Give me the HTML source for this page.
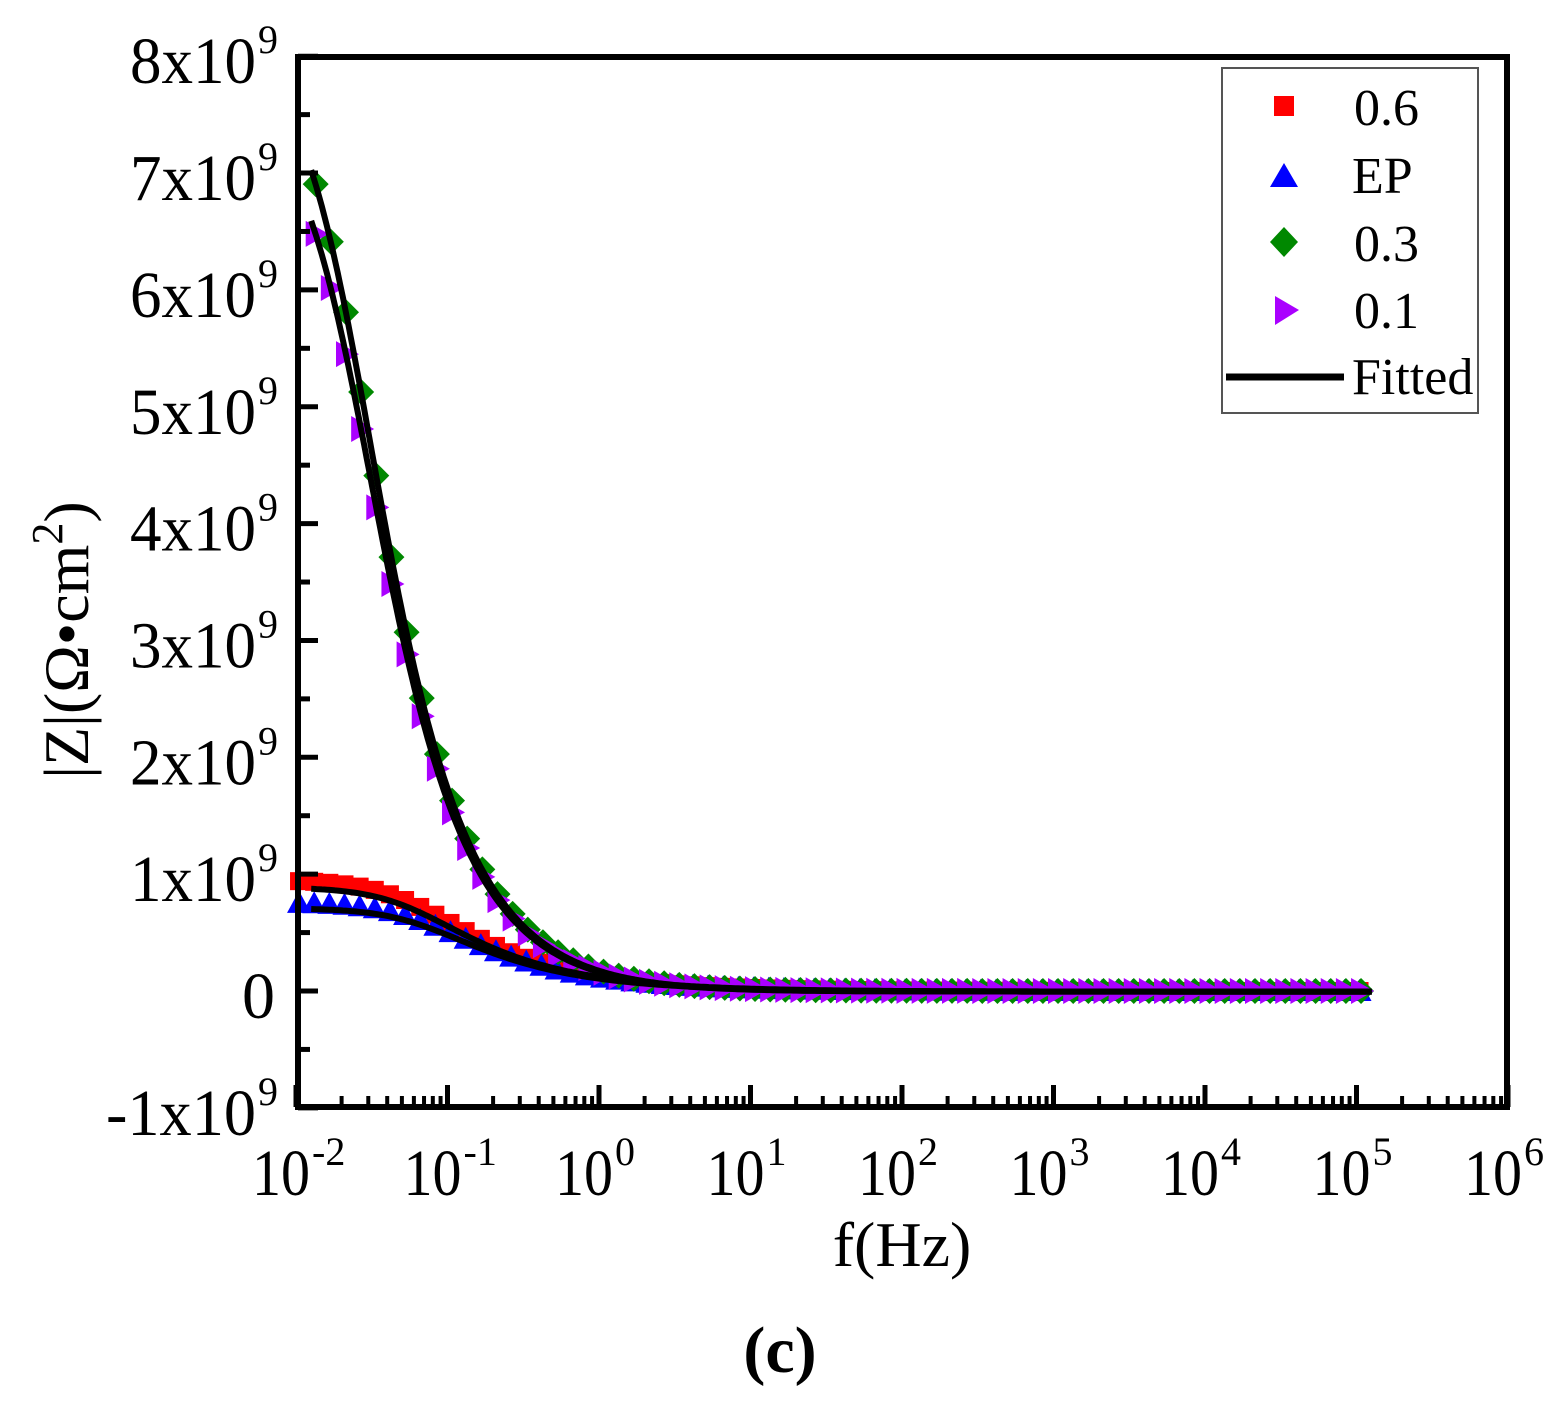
<!DOCTYPE html>
<html><head><meta charset="utf-8"><style>
html,body{margin:0;padding:0;background:#fff;}
svg{display:block;font-family:"Liberation Serif",serif;}
</style></head><body>
<svg id="s" width="1564" height="1402" viewBox="0 0 1564 1402" xmlns="http://www.w3.org/2000/svg">
<rect width="1564" height="1402" fill="#fff"/>
<g id="data"></g>
<g id="axes"></g>
<rect x="1222" y="68" width="256" height="345" fill="#fff" stroke="#555" stroke-width="2"/>
<rect x="1274" y="96" width="20" height="20" fill="#f00"/>
<polygon points="1284,163 1298,187 1270,187" fill="#00f"/>
<polygon points="1284,227 1298,242 1284,257 1270,242" fill="#080"/>
<polygon points="1275,296 1299,310 1275,325" fill="#a0f"/>
<line x1="1226" y1="377" x2="1344" y2="377" stroke="#000" stroke-width="7"/>
<g font-size="52" fill="#000">
<text x="1354" y="125">0.6</text>
<text x="1352" y="193">EP</text>
<text x="1354" y="261">0.3</text>
<text x="1354" y="328">0.1</text>
<text x="1352" y="394">Fitted</text>
</g>
<text x="902" y="1266" font-size="64" text-anchor="middle">f(Hz)</text>
<text x="780" y="1372" font-size="66" text-anchor="middle" font-weight="bold">(c)</text>
<text transform="translate(88,640) rotate(-90)" font-size="64" text-anchor="middle">|Z|(Ω•cm<tspan font-size="44" dy="-26">2</tspan><tspan dy="26">)</tspan></text>
</svg>
<script>
var NS="http://www.w3.org/2000/svg";
var X0=296,DX=151.5,Y0=991,DY=116.85;
function fx(f){return X0+(Math.log10(f)+2)*DX;}
function fy(v){return Y0-v*DY;}
function el(p,t,a,txt){var e=document.createElementNS(NS,t);for(var k in a)e.setAttribute(k,a[k]);if(txt!==undefined)e.textContent=txt;p.appendChild(e);return e;}
var ax=document.getElementById('axes'),dg=document.getElementById('data');
el(ax,'rect',{x:298,y:57,width:1209,height:1050,fill:'none',stroke:'#000','stroke-width':6});
for(var v=-1;v<=8;v+=0.5){var y=fy(v);var L=(Math.abs(v-Math.round(v))<0.01)?20:12;el(ax,'line',{x1:298,y1:y,x2:298+L,y2:y,stroke:'#000','stroke-width':5});}
for(var d=-2;d<=6;d++){var x=fx(Math.pow(10,d));el(ax,'line',{x1:x,y1:1107,x2:x,y2:1085,stroke:'#000','stroke-width':5});
 if(d<6)for(var m=2;m<=9;m++){var xm=fx(m*Math.pow(10,d));el(ax,'line',{x1:xm,y1:1107,x2:xm,y2:1096,stroke:'#000','stroke-width':4});}}
for(var v=-1;v<=8;v++){var y=fy(v)+27;
 if(v==0){el(ax,'text',{x:275,y:y,'font-size':66,'text-anchor':'end'},'0');continue;}
 el(ax,'text',{x:256,y:y,'font-size':66,'text-anchor':'end',textLength:(v==-1?150:126),lengthAdjust:'spacingAndGlyphs'},(v==-1?'-1':v)+'x10');
 el(ax,'text',{x:258,y:y-30,'font-size':40},'9');}
for(var d=-2;d<=6;d++){var x=fx(Math.pow(10,d));
 el(ax,'text',{x:x+14,y:1195,'font-size':66,'text-anchor':'end',textLength:58,lengthAdjust:'spacingAndGlyphs'},'10');
 el(ax,'text',{x:x+16,y:1165,'font-size':40},String(d));}
function Zf(R,fc,a,f){return R/Math.pow(1+Math.pow(f/fc,2),a/2);}
var S=[
 {R:0.95,fc:0.06,a:0.7,c:'#f00',m:'sq'},
 {R:0.76,fc:0.07,a:0.7,c:'#00f',m:'tri'},
 {R:8.1,fc:0.022,a:1.0,c:'#080',m:'dia'},
 {R:7.6,fc:0.022,a:1.0,c:'#a0f',m:'rt'}];
function fitted(s,sc){var d='';for(var i=0;i<=400;i++){var lf=-1.9+i*(7.0/400);var f=Math.pow(10,lf);var x=fx(f),y=fy(Zf(s.R*sc,s.fc,s.a,f)-0.005);d+=(i?'L':'M')+x.toFixed(1)+' '+y.toFixed(1);}return d;}
S.forEach(function(s,k){
 var start=(k>=2)?-1.87:-1.98;
 for(var i=0;;i++){var lf=start+i*0.1;if(lf>5.09)break;var f=Math.pow(10,lf);var x=fx(f),y=fy(Zf(s.R,s.fc,s.a,f));
  if(s.m=='sq')el(dg,'rect',{x:x-9,y:y-9,width:18,height:18,fill:s.c});
  else if(s.m=='tri')el(dg,'polygon',{points:(x)+','+(y-12)+' '+(x+12)+','+(y+10)+' '+(x-12)+','+(y+10),fill:s.c});
  else if(s.m=='dia')el(dg,'polygon',{points:x+','+(y-13)+' '+(x+13)+','+y+' '+x+','+(y+13)+' '+(x-13)+','+y,fill:s.c});
  else el(dg,'polygon',{points:(x-10)+','+(y-13)+' '+(x+13)+','+y+' '+(x-10)+','+(y+13),fill:s.c});}
});
S.forEach(function(s,k){el(dg,'path',{d:fitted(s,k<2?0.94:1),fill:'none',stroke:'#000','stroke-width':6});});
</script>
</body></html>
